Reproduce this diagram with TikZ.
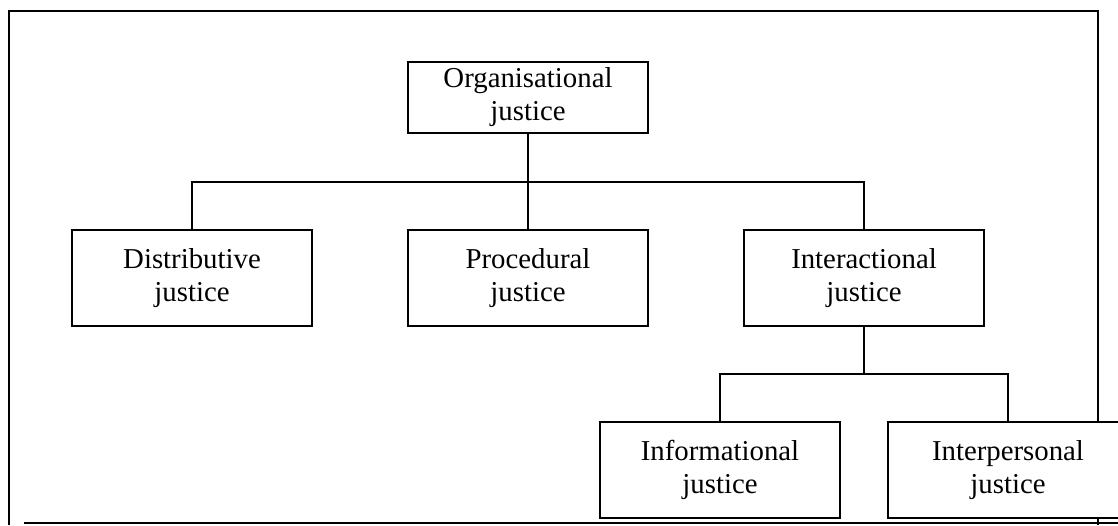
\documentclass[tikz,border=0pt]{standalone}
\usepackage{fontspec}
\setmainfont{Liberation Serif}
\usetikzlibrary{positioning,calc}
\tikzset{every picture/.style={line width=0.65pt}}

\begin{document}
\begin{tikzpicture}[x=0.5pt,y=-0.5pt,
    jbox/.style={draw,fill=white,line width=1pt,minimum width=120pt,minimum height=48pt,
        align=center,inner sep=0pt,font=\fontsize{14.4}{16.5}\selectfont},
    frame/.style={line width=1pt}]
    \clip (0,0) rectangle (1118,525);
    \useasboundingbox (0,0) rectangle (1118,525);

    % Outer frame
    \draw[frame] (9,525) -- (9,11) -- (1098,11) -- (1098,525);
    \draw[frame] (24,523) -- (1118,523);

    % Top box
    \node[jbox,minimum height=35.5pt] (org) at (528,97.5) {Organisational\\justice};

    % Second level
    \node[jbox] (dist) at (192,278) {Distributive\\justice};
    \node[jbox] (proc) at (528,278) {Procedural\\justice};
    \node[jbox] (inter) at (864,278) {Interactional\\justice};

    % Third level
    \node[jbox] (info) at (720,470) {Informational\\justice};
    \node[jbox] (pers) at (1008,470) {Interpersonal\\justice};

    % Connectors
    \coordinate (bar1) at (528,182);
    \coordinate (bar2) at (864,374);
    \draw (org.south) -- (proc.north);
    \draw (dist.north) |- (bar1) -| (inter.north);
    \draw (inter.south) -- (bar2);
    \draw (info.north) |- (bar2) -| (pers.north);
\end{tikzpicture}
\end{document}
